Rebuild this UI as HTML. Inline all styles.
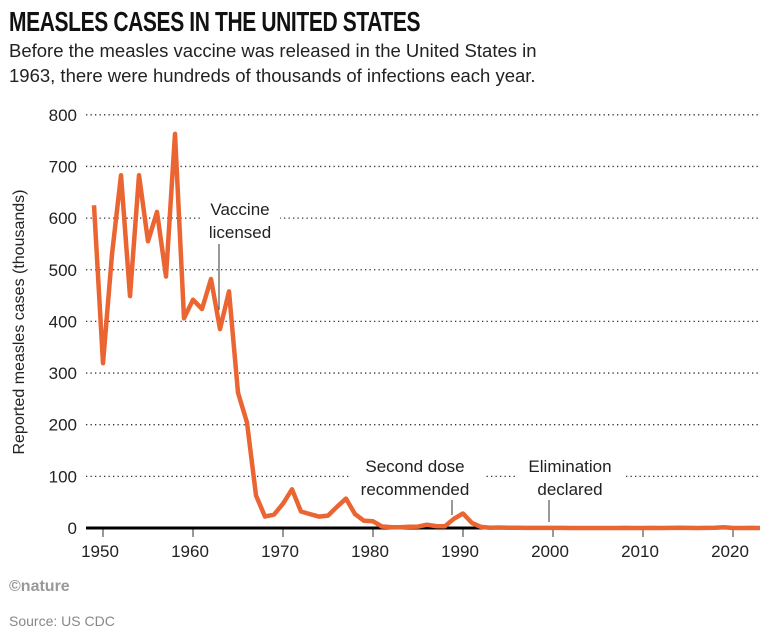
<!DOCTYPE html>
<html><head><meta charset="utf-8"><style>
body{margin:0;background:#fff;width:770px;height:634px;overflow:hidden;font-family:"Liberation Sans",sans-serif;color:#222}
#title{position:absolute;left:9px;top:6px;font-size:28px;font-weight:bold;letter-spacing:-0.5px;transform:scaleX(0.75);transform-origin:left;white-space:nowrap;color:#111}
#sub{position:absolute;left:9px;top:38px;font-size:18.5px;line-height:25px;width:560px}
#logo{position:absolute;left:9px;top:578px;font-size:16px;color:#999;font-weight:bold}
#src{position:absolute;left:9px;top:613px;font-size:14px;color:#888}
</style></head><body>
<div id="title">MEASLES CASES IN THE UNITED STATES</div>
<div id="sub">Before the measles vaccine was released in the United States in 1963, there were hundreds of thousands of infections each year.</div>
<div id="logo">©nature</div>
<div id="src">Source: US CDC</div>
<svg id="chart" width="770" height="634" style="position:absolute;left:0;top:0"></svg>
<script>
const years=[1949,1950,1951,1952,1953,1954,1955,1956,1957,1958,1959,1960,1961,1962,1963,1964,1965,1966,1967,1968,1969,1970,1971,1972,1973,1974,1975,1976,1977,1978,1979,1980,1981,1982,1983,1984,1985,1986,1987,1988,1989,1990,1991,1992,1993,1994,1995,1996,1997,1998,1999,2000,2001,2002,2003,2004,2005,2006,2007,2008,2009,2010,2011,2012,2013,2014,2015,2016,2017,2018,2019,2020,2021,2022,2023];
const cases=[625,319,530,683,449,683,555,612,487,763,406,442,424,482,385,458,262,204,63,22,26,47,75,32,27,22,24,41,57,27,14,13,3,1.7,1.5,2.6,2.8,6.3,3.7,3.4,18,28,9.6,2.2,0.3,1,0.3,0.5,0.1,0.1,0.1,0.1,0.1,0.04,0.06,0.04,0.07,0.06,0.04,0.14,0.07,0.06,0.22,0.06,0.19,0.67,0.19,0.09,0.12,0.37,1.27,0.01,0.05,0.12,0.06];
const yTicks=[0,100,200,300,400,500,600,700,800];
const xTicks=[1950,1960,1970,1980,1990,2000,2010,2020];
const NS="http://www.w3.org/2000/svg";
const svg=document.getElementById('chart');
const X=y=>103+(y-1950)*9;
const Y=v=>528-v*0.5165;
function mk(t,a){const e=document.createElementNS(NS,t);for(const k in a)e.setAttribute(k,a[k]);svg.appendChild(e);return e;}
yTicks.forEach(v=>{
  if(v>0){const g=mk('line',{x1:86,x2:760,y1:Y(v),y2:Y(v),stroke:'#333','stroke-width':1.3,'stroke-dasharray':'1.3 3.2'});
  
  }
  const t=mk('text',{x:77,y:Y(v)+6,'text-anchor':'end','font-size':17,fill:'#222','font-family':'Liberation Sans, sans-serif'});t.textContent=v;
  
  
});
xTicks.forEach(v=>{
  const l=mk('line',{x1:X(v),x2:X(v),y1:528,y2:537,stroke:'#333','stroke-width':1});
  
  
  const t=mk('text',{x:X(v)-3,y:557,'text-anchor':'middle','font-size':17,fill:'#222','font-family':'Liberation Sans, sans-serif'});t.textContent=v;
  
  
});
[[200,195,80,48],[350,452,135,48],[515,452,110,48]].forEach(r=>{const b=mk('rect',{x:r[0],y:r[1],width:r[2],height:r[3],fill:'#fff'});});
const base=mk('line',{x1:86,x2:760,y1:528,y2:528,stroke:'#000','stroke-width':3});


const yt=mk('text',{transform:'translate(24,322) rotate(-90)','text-anchor':'middle','font-size':16,fill:'#222','font-family':'Liberation Sans, sans-serif'});yt.textContent='Reported measles cases (thousands)';


function ann(lines,x,y,lx,ly1,ly2,name){
  lines.forEach((s,i)=>{const t=mk('text',{x:x,y:y+i*23,'text-anchor':'middle','font-size':17,fill:'#222','font-family':'Liberation Sans, sans-serif'});t.textContent=s;
  
  });
  const l=mk('line',{x1:lx,x2:lx,y1:ly1,y2:ly2,stroke:'#333','stroke-width':1});
  
  
}
ann(['Vaccine','licensed'],240,215,219,244,310,'vaccine-licensed');
ann(['Second dose','recommended'],415,472,452,500,515,'second-dose');
ann(['Elimination','declared'],570,472,549,500,522,'elimination');
const p=mk('path',{d:years.map((y,i)=>(i?'L':'M')+X(y).toFixed(1)+','+Y(cases[i]).toFixed(1)).join(''),fill:'none',stroke:'#ea6532','stroke-width':4.5,'stroke-linejoin':'round'});


</script>
</body></html>
